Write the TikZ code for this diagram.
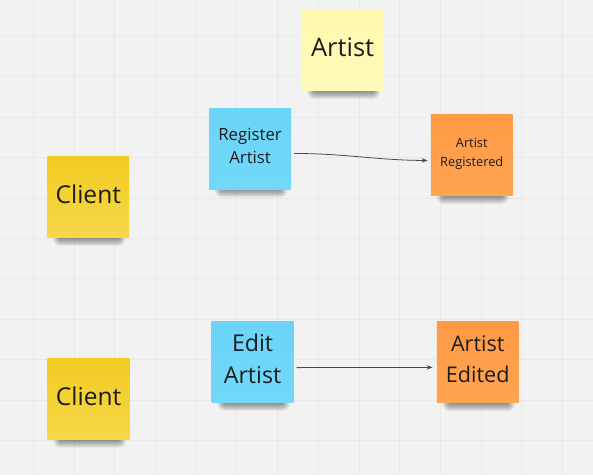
\documentclass[tikz,border=0pt]{standalone}
\usepackage{fontspec}
\setmainfont{Open Sans}
\usetikzlibrary{arrows.meta,calc}
\pgfdeclarelayer{back}
\pgfdeclarelayer{shadowlayer}
\pgfsetlayers{back,shadowlayer,main}
\definecolor{bgc}{HTML}{F2F2F2}
\definecolor{gridc}{HTML}{E8E8E8}
\definecolor{paleY}{HTML}{FFF8AE}
\definecolor{paleYb}{HTML}{FFFAB8}
\definecolor{blueN}{HTML}{6BD4F8}
\definecolor{blueNb}{HTML}{72D8FA}
\definecolor{orangeN}{HTML}{FF9A45}
\definecolor{orangeNb}{HTML}{FFA452}
\definecolor{yelN}{HTML}{F2CC22}
\definecolor{yelNb}{HTML}{F6D849}
\definecolor{inkc}{HTML}{1C1C1C}
\definecolor{arrowc}{HTML}{4A4A4A}
\tikzset{
  sticky/.style={rectangle, minimum width=82pt, minimum height=81pt, inner sep=0pt,
    align=center, text=inkc, text depth=6pt},
  paleyellow/.style={sticky, top color=paleY, bottom color=paleYb},
  bluenote/.style={sticky, top color=blueN, bottom color=blueNb},
  orangenote/.style={sticky, top color=orangeN, bottom color=orangeNb},
  yellownote/.style={sticky, top color=yelN, bottom color=yelNb},
  conn/.style={draw=arrowc, line width=0.8pt, -{Stealth[length=6pt,width=4.5pt]}},
  gridline/.style={draw=gridc, line width=0.8pt},
  shadowpiece/.style={fill=black, opacity=0.06}
}
\newcommand{\notesh}[1]{%
  \begin{pgfonlayer}{shadowlayer}
    \foreach \k in {0,...,7}{
      \fill[shadowpiece, rounded corners=\k pt]
        ($(#1.south west)+(13-\k,-4)$) rectangle ($(#1.south east)+(-11+\k,1+\k)$);
    }
  \end{pgfonlayer}}
\begin{document}
\begin{tikzpicture}[x=1pt,y=-1pt]
\begin{pgfonlayer}{back}
  \fill[bgc] (0,0) rectangle (593,475);
  \foreach \i in {0,...,13}{\draw[gridline] ({33+40.75*\i},0) -- ({33+40.75*\i},475);}
  \foreach \j in {0,...,10}{\draw[gridline] (0,{35.8+40.5*\j}) -- (593,{35.8+40.5*\j});}
\end{pgfonlayer}
\useasboundingbox (0,0) rectangle (593,475);

\node[paleyellow, font=\fontsize{25.5}{34}\selectfont] (artist) at (342.7,50) {Artist};
\node[bluenote, font=\fontsize{16.8}{23.5}\selectfont] (reg) at (250,148.5) {Register\\Artist};
\node[orangenote, font=\fontsize{12.8}{18.7}\selectfont] (regd) at (472,155) {Artist\\Registered};
\node[yellownote, font=\fontsize{24.6}{33}\selectfont] (client1) at (88,197.2) {Client};
\node[bluenote, font=\fontsize{23.2}{32}\selectfont] (edit) at (252.5,362.2) {Edit\\Artist};
\node[orangenote, font=\fontsize{21.6}{31}\selectfont] (edited) at (478,362.5) {Artist\\Edited};
\node[yellownote, font=\fontsize{24.6}{33}\selectfont] (client2) at (88.4,399.2) {Client};

\notesh{artist}
\notesh{reg}
\notesh{regd}
\notesh{client1}
\notesh{edit}
\notesh{edited}
\notesh{client2}

\draw[conn] ($(reg.east)+(3,4.8)$) .. controls ($(reg.east)+(55,4.8)$) and ($(regd.west)+(-55,5)$) .. ($(regd.west)+(-3,5.3)$);
\draw[conn] ($(edit.east)+(3,5.5)$) -- ($(edited.west)+(-4,5)$);
\end{tikzpicture}
\end{document}
